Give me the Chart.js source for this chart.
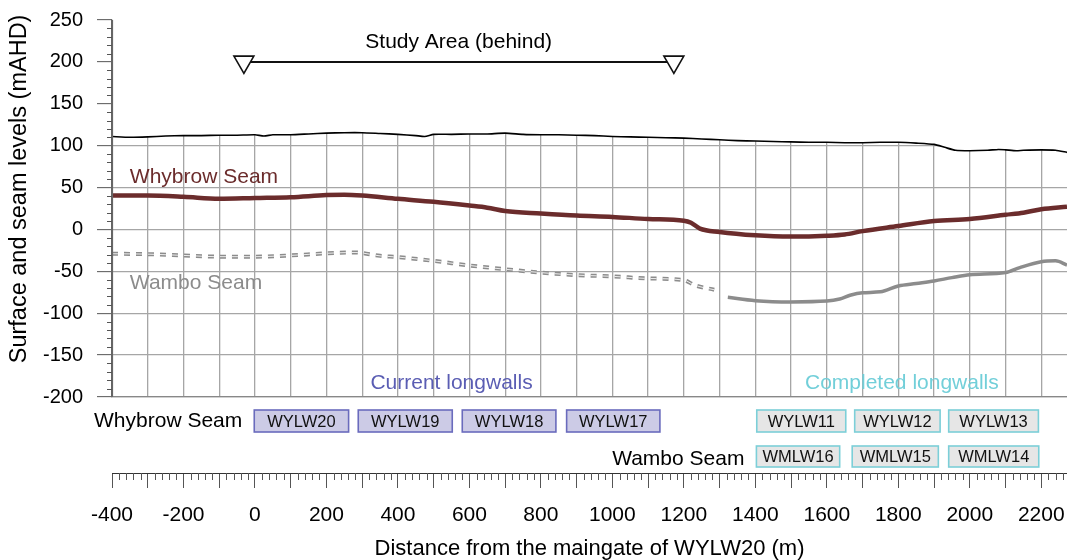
<!DOCTYPE html>
<html>
<head>
<meta charset="utf-8">
<script src="https://cdn.jsdelivr.net/npm/chart.js@4.4.1/dist/chart.umd.min.js"></script>
<style>
  html, body { margin: 0; background: #fff; }
  #wrap { width: 1067px; height: 560px; }
</style>
</head>
<body>
<div id="wrap"><canvas id="profile" width="1067" height="560"></canvas></div>
<script>
/* ── Surface & seam profile along WYLW20 maingate ── */

/* ===================== DATA ===================== */
const surfaceX = [-400, -350, -300, -250, -200, -150, -100, -50, 0, 25, 50, 100, 150, 200, 250, 300, 350, 400, 450, 475, 500, 550, 600, 650, 700, 750, 800, 850, 900, 950, 1000, 1050, 1100, 1150, 1200, 1250, 1300, 1350, 1400, 1450, 1500, 1550, 1600, 1650, 1700, 1750, 1800, 1850, 1900, 1930, 1960, 2000, 2050, 2080, 2100, 2130, 2150, 2200, 2240, 2272];
const surfaceY = [111, 110, 110.5, 111.5, 112, 112, 112.5, 112.5, 113, 111.5, 113, 113, 114, 115, 115.5, 115.5, 114.5, 113.5, 112, 111, 113.5, 113.5, 114, 114, 115, 113.5, 113, 113, 112.5, 112, 111, 110.5, 110, 109.5, 109, 108, 107, 106, 105.5, 105, 104.5, 104, 104, 103.5, 103.5, 104, 104, 103, 101.5, 98, 94.5, 94, 94.5, 95.5, 95, 94, 94.5, 95, 94.5, 92];

const whybrowX = [-400, -300, -200, -100, 0, 100, 200, 250, 300, 400, 500, 600, 650, 700, 800, 900, 1000, 1100, 1200, 1220, 1245, 1300, 1400, 1500, 1600, 1650, 1700, 1800, 1900, 2000, 2100, 2150, 2200, 2272];
const whybrowY = [40.5, 40.5, 39, 36.5, 37.5, 38.5, 41, 41.5, 40.5, 36.5, 33, 28.5, 26, 22, 19, 16.5, 15, 12.5, 10.5, 8, 1, -3, -7, -8.5, -7.5, -6, -2, 4, 10, 12.5, 17.5, 20, 24, 27];

const wamboInferredX = [-400, -300, -200, -100, 0, 100, 200, 280, 350, 400, 500, 600, 700, 800, 900, 1000, 1100, 1200, 1230, 1285];
const wamboInferredY = [-29, -29.5, -31, -32.5, -32.5, -31, -28.5, -27.5, -31.5, -33, -37.5, -43, -47.5, -51.5, -54.5, -56, -58.5, -60.5, -66.5, -72];

const wamboX = [1323, 1400, 1500, 1600, 1636, 1665, 1700, 1750, 1800, 1850, 1900, 1950, 2000, 2100, 2140, 2200, 2240, 2272];
const wamboY = [-81, -85, -86.5, -85.5, -83, -78.5, -75.5, -74.5, -67.5, -64.5, -61.5, -57.5, -54, -51.5, -45.5, -38.5, -37.5, -42.5];

const studyAreaX = [-31, 1172];
const studyAreaY = [200, 200];

const currentPanels = ['WYLW20', 'WYLW19', 'WYLW18', 'WYLW17'];
const currentFrom   = [-2, 289, 580, 872];
const currentTo     = [262, 552, 842, 1133];
const completedPanels = ['WYLW11', 'WYLW12', 'WYLW13'];
const completedFrom   = [1404, 1678, 1941];
const completedTo     = [1653, 1917, 2192];
const wamboPanels = ['WMLW16', 'WMLW15', 'WMLW14'];
const wamboFrom   = [1403, 1671, 1941];
const wamboTo     = [1636, 1912, 2193];

/* ===================== STYLE ===================== */
const FONT = '"Liberation Sans", Arial, sans-serif';
const GRID = '#a6a6a6';
const MAROON = '#6b2c2c';
const GREY = '#8c8c8c';
const CURRENT = { text: '#5a5db3', edge: '#6a6bbd', fill: '#cccbe6' };
const DONE = { text: '#72cfd9', edge: '#7ccfd8', fill: '#e6e6e6' };

// text placed in data units (m, mAHD)
const notes = [
    { text: 'Study Area (behind)', x: 570, y: 217, align: 'center', color: '#000' },
    { text: 'Whybrow Seam', x: -350, y: 55, align: 'left', color: MAROON },
    { text: 'Wambo Seam', x: -350, y: -70.5, align: 'left', color: GREY },
    { text: 'Current longwalls', x: 550, y: -190.5, align: 'center', color: CURRENT.text },
    { text: 'Completed longwalls', x: 1810, y: -190.5, align: 'center', color: DONE.text }
];

const toPts = (xs, ys) => xs.map((x, i) => ({ x, y: ys[i] }));
const onHundreds = s => { s.ticks = s.ticks.filter(t => t.value % 100 === 0); };
const noPadding = s => { s.paddingLeft = 0; s.paddingRight = 0; s.paddingTop = 0; s.paddingBottom = 0; };

/* ===================== OVERLAY PLUGIN ===================== */
function drawPanels(ctx, xs, names, from, to, top, h, col) {
    names.forEach((n, i) => {
        const l = xs.getPixelForValue(from[i]);
        const r = xs.getPixelForValue(to[i]);
        ctx.fillStyle = col.fill;
        ctx.fillRect(l, top, r - l, h);
        ctx.strokeStyle = col.edge;
        ctx.lineWidth = 1.6;
        ctx.strokeRect(l, top, r - l, h);
        ctx.fillStyle = '#111';
        ctx.font = '16.5px ' + FONT;
        ctx.textAlign = 'center';
        ctx.textBaseline = 'middle';
        ctx.fillText(n, (l + r) / 2, top + h / 2 + 1);
    });
}

const overlay = {
    id: 'overlay',
    afterDatasetsDraw(chart) {
        const { ctx, chartArea: a, scales: { x, y } } = chart;
        ctx.save();
        // y axis line again (surface white fill sits over it)
        ctx.strokeStyle = '#666';
        ctx.lineWidth = 1.2;
        ctx.beginPath();
        ctx.moveTo(a.left + 0.5, a.top);
        ctx.lineTo(a.left + 0.5, a.bottom);
        ctx.stroke();

        ctx.font = '21px ' + FONT;
        ctx.textBaseline = 'alphabetic';
        notes.forEach(n => {
            ctx.fillStyle = n.color;
            ctx.textAlign = n.align;
            ctx.fillText(n.text, x.getPixelForValue(n.x), y.getPixelForValue(n.y));
        });
        ctx.restore();
    },
    afterDraw(chart) {
        const { ctx, chartArea: a, scales: { x, x2, y } } = chart;
        ctx.save();
        // minor ticks
        ctx.strokeStyle = '#555';
        ctx.lineWidth = 1;
        ctx.beginPath();
        for (let v = -200; v <= 250; v += 10) {
            if (v % 50 === 0) continue;
            const py = Math.round(y.getPixelForValue(v)) + 0.5;
            ctx.moveTo(a.left - 5, py);
            ctx.lineTo(a.left, py);
        }
        for (let v = -400; v <= 2260; v += 20) {
            if (v % 100 === 0) continue;
            const px = Math.round(x2.getPixelForValue(v)) + 0.5;
            ctx.moveTo(px, x2.top);
            ctx.lineTo(px, x2.top + 7);
        }
        ctx.stroke();

        // longwall panels
        const row1 = a.bottom + 13, row2 = a.bottom + 49;
        drawPanels(ctx, x, currentPanels, currentFrom, currentTo, row1, 22, CURRENT);
        drawPanels(ctx, x, completedPanels, completedFrom, completedTo, row1, 22, DONE);
        drawPanels(ctx, x, wamboPanels, wamboFrom, wamboTo, row2, 21, DONE);

        ctx.font = '21px ' + FONT;
        ctx.fillStyle = '#000';
        ctx.textAlign = 'right';
        ctx.textBaseline = 'alphabetic';
        ctx.fillText('Whybrow Seam', x.getPixelForValue(currentFrom[0]) - 12, row1 + 17);
        ctx.fillText('Wambo Seam', x.getPixelForValue(wamboFrom[0]) - 12, row2 + 19);
        ctx.restore();
    }
};

/* ===================== CHART ===================== */
const ctx = document.getElementById('profile').getContext('2d');
new Chart(ctx, {
    type: 'line',
    data: {
        datasets: [
            {
                data: toPts(studyAreaX, studyAreaY),
                borderColor: '#111',
                borderWidth: 2,
                pointStyle: 'triangle',
                rotation: 180,
                pointRadius: 11.5,
                pointBackgroundColor: '#fff',
                pointBorderColor: '#111',
                pointBorderWidth: 1.6,
                order: 0
            },
            {
                data: toPts(whybrowX, whybrowY),
                borderColor: MAROON,
                borderWidth: 4.5,
                pointRadius: 0,
                cubicInterpolationMode: 'monotone',
                order: 1
            },
            {
                // thin centre line gives the inferred section its double-dash look
                data: toPts(wamboInferredX, wamboInferredY),
                borderColor: 'rgba(255,255,255,0.85)',
                borderWidth: 1,
                borderDash: [6, 6],
                pointRadius: 0,
                cubicInterpolationMode: 'monotone',
                order: 2
            },
            {
                data: toPts(wamboInferredX, wamboInferredY),
                borderColor: GREY,
                borderWidth: 4,
                borderDash: [6, 6],
                pointRadius: 0,
                cubicInterpolationMode: 'monotone',
                order: 3
            },
            {
                data: toPts(wamboX, wamboY),
                borderColor: GREY,
                borderWidth: 3.5,
                pointRadius: 0,
                cubicInterpolationMode: 'monotone',
                order: 4
            },
            {
                data: toPts(surfaceX, surfaceY),
                borderColor: '#000',
                borderWidth: 1.6,
                pointRadius: 0,
                tension: 0.2,
                fill: 'end',
                backgroundColor: '#fff',
                order: 9
            }
        ]
    },
    options: {
        responsive: false,
        animation: false,
        layout: { autoPadding: false, padding: { top: 20, left: 0, right: 0, bottom: 0 } },
        plugins: {
            legend: { display: false },
            tooltip: { enabled: false }
        },
        scales: {
            x: {
                type: 'linear',
                position: 'bottom',
                min: -400,
                max: 2272,
                afterBuildTicks: onHundreds,
                ticks: { display: false, stepSize: 100, includeBounds: false },
                grid: { color: GRID, lineWidth: 1.3, drawTicks: false },
                border: { display: true, color: '#888', width: 1.3 },
                afterFit(s) { s.height = 76; noPadding(s); }
            },
            x2: {
                type: 'linear',
                position: 'bottom',
                min: -400,
                max: 2272,
                afterBuildTicks: onHundreds,
                ticks: {
                    stepSize: 100,
                    includeBounds: false,
                    autoSkip: false,
                    maxRotation: 0,
                    padding: 15,
                    color: '#000',
                    font: { family: FONT, size: 21 },
                    callback: v => (v % 200 === 0 ? String(v) : '')
                },
                grid: { drawOnChartArea: false, tickLength: 15, tickColor: '#555', tickWidth: 1 },
                border: { display: true, color: '#333', width: 1 },
                title: {
                    display: true,
                    text: 'Distance from the maingate of WYLW20 (m)',
                    color: '#000',
                    font: { family: FONT, size: 22, lineHeight: 1 },
                    padding: { top: 0, bottom: 0 }
                },
                afterFit(s) { s.height = 87; noPadding(s); }
            },
            y: {
                min: -200,
                max: 250,
                ticks: {
                    stepSize: 50,
                    padding: 14,
                    color: '#000',
                    font: { family: FONT, size: 20 },
                    callback: v => String(v)
                },
                grid: {
                    color: c => (c.tick && c.tick.value === 250 ? 'rgba(0,0,0,0)' : GRID),
                    lineWidth: 1.3,
                    tickLength: 15,
                    tickColor: '#555',
                    tickWidth: 1
                },
                border: { display: true, color: '#666', width: 1.2 },
                title: {
                    display: true,
                    text: '      Surface and seam levels (mAHD)',
                    color: '#000',
                    font: { family: FONT, size: 23.5 },
                    padding: { top: 5, bottom: 0 }
                },
                afterFit(s) { s.width = 112; noPadding(s); }
            }
        }
    },
    plugins: [overlay]
});
</script>
</body>
</html>
